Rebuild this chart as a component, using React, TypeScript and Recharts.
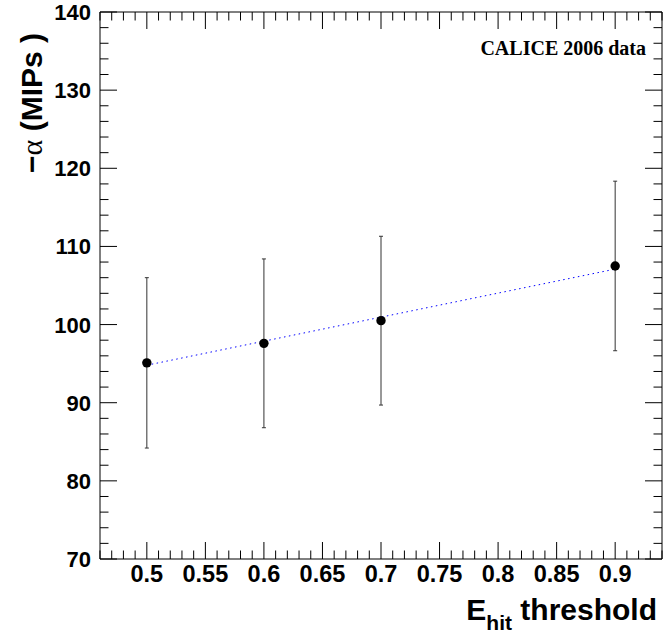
import React from "react";
import {
  ComposedChart,
  XAxis,
  YAxis,
  Scatter,
  Line,
  ErrorBar,
  ReferenceArea,
  Customized,
} from "recharts";

// ---- data ----
const thresholds = [0.5, 0.6, 0.7, 0.9];
const alphaValues = [95.1, 97.6, 100.5, 107.5];
const alphaErrors = [10.9, 10.8, 10.8, 10.85];
const fitX = [0.5, 0.9];
const fitY = [94.8, 107.1];

const xTicks = [
  0.46, 0.47, 0.48, 0.49, 0.5, 0.51, 0.52, 0.53, 0.54, 0.55, 0.56, 0.57, 0.58,
  0.59, 0.6, 0.61, 0.62, 0.63, 0.64, 0.65, 0.66, 0.67, 0.68, 0.69, 0.7, 0.71,
  0.72, 0.73, 0.74, 0.75, 0.76, 0.77, 0.78, 0.79, 0.8, 0.81, 0.82, 0.83, 0.84,
  0.85, 0.86, 0.87, 0.88, 0.89, 0.9, 0.91, 0.92, 0.93, 0.94,
];
const xLabels = ["0.5", "0.55", "0.6", "0.65", "0.7", "0.75", "0.8", "0.85", "0.9"];
const yTicks = [
  70, 72, 74, 76, 78, 80, 82, 84, 86, 88, 90, 92, 94, 96, 98, 100, 102, 104,
  106, 108, 110, 112, 114, 116, 118, 120, 122, 124, 126, 128, 130, 132, 134,
  136, 138, 140,
];
const yLabels = ["70", "80", "90", "100", "110", "120", "130", "140"];

const points = thresholds.map((x, i) => ({ x, y: alphaValues[i], err: alphaErrors[i] }));
const fitData = fitX.map((x, i) => ({ x, y: fitY[i] }));

// ---- layout ----
const W = 665;
const H = 635;
const PLOT_W = 562;
const PLOT_H = 547;
const MAJOR = 17;
const MINOR = 8.5;
const FONT = "'Liberation Sans', Arial, Helvetica, sans-serif";

const XTick = (props: any) => {
  const { x, y, payload } = props;
  const v = payload.value as number;
  const c = Math.round(v * 100);
  const major = c % 5 === 0;
  const len = major ? MAJOR : MINOR;
  const top = y - PLOT_H;
  const label = major ? xLabels.find((l) => Math.round(parseFloat(l) * 100) === c) : undefined;
  return (
    <g>
      <line x1={x} y1={y} x2={x} y2={y - len} stroke="#000" strokeWidth={1} />
      <line x1={x} y1={top} x2={x} y2={top + len} stroke="#000" strokeWidth={1} />
      {label && (
        <text
          x={x}
          y={y + 23}
          textAnchor="middle"
          fontFamily={FONT}
          fontWeight="bold"
          fontSize={23.5}
          fill="#000"
        >
          {label}
        </text>
      )}
    </g>
  );
};

const YTick = (props: any) => {
  const { x, y, payload } = props;
  const v = payload.value as number;
  const major = Math.round(v) % 10 === 0;
  const len = major ? MAJOR : MINOR;
  const right = x + PLOT_W;
  const label = major ? yLabels.find((l) => parseFloat(l) === Math.round(v)) : undefined;
  return (
    <g>
      <line x1={x} y1={y} x2={x + len} y2={y} stroke="#000" strokeWidth={1} />
      <line x1={right} y1={y} x2={right - len} y2={y} stroke="#000" strokeWidth={1} />
      {label && (
        <text
          x={x - 9}
          y={y + 8}
          textAnchor="end"
          fontFamily={FONT}
          fontWeight="bold"
          fontSize={22}
          fill="#000"
        >
          {label}
        </text>
      )}
    </g>
  );
};

const Dot = (props: any) => {
  const { cx, cy } = props;
  if (cx == null || cy == null) return null;
  return <circle cx={cx} cy={cy} r={4.7} fill="#000" />;
};

const Texts = () => (
  <g>
    <text
      x={646}
      y={55}
      textAnchor="end"
      fontFamily="'Liberation Serif', 'Times New Roman', serif"
      fontWeight="bold"
      fontSize={20}
      fill="#000"
    >
      CALICE 2006 data
    </text>
    <text
      x={657}
      y={620}
      textAnchor="end"
      fontFamily={FONT}
      fontWeight="bold"
      fontSize={30}
      fill="#000"
    >
      E
      <tspan fontSize={21} dy={10}>
        hit
      </tspan>
      <tspan dy={-10}> threshold</tspan>
    </text>
    <text
      transform="translate(42,33) rotate(-90)"
      x={0}
      y={0}
      textAnchor="end"
      fontFamily={FONT}
      fontWeight="bold"
      fontSize={30}
      fill="#000"
    >
      {"\u2212"}
      <tspan fontFamily="'Liberation Serif', 'DejaVu Serif', serif" fontWeight="normal">
        {"\u03b1"}
      </tspan>
      {" (MIPs )"}
    </text>
  </g>
);

export default function App() {
  return (
    <div style={{ position: "absolute", left: 0, top: 0, width: W, height: H }}>
      <ComposedChart
        width={W}
        height={H}
        margin={{ top: 12, right: 3, left: 0, bottom: 0 }}
        style={{ background: "#fff" }}
      >
        <XAxis
          dataKey="x"
          type="number"
          domain={[0.46, 0.94]}
          ticks={xTicks}
          interval={0}
          height={76}
          tickSize={0}
          tickMargin={0}
          tickLine={false}
          axisLine={false}
          tick={<XTick />}
          allowDataOverflow
        />
        <YAxis
          type="number"
          domain={[70, 140]}
          ticks={yTicks}
          interval={0}
          width={100}
          tickSize={0}
          tickMargin={0}
          tickLine={false}
          axisLine={false}
          tick={<YTick />}
          allowDataOverflow
        />
        <ReferenceArea
          x1={0.46}
          x2={0.94}
          y1={70}
          y2={140}
          fill="none"
          fillOpacity={0}
          stroke="#000"
          strokeWidth={1}
        />
        <Line
          data={fitData}
          dataKey="y"
          stroke="#0000ff"
          strokeWidth={1}
          strokeDasharray="1.5 3.5"
          dot={false}
          activeDot={false}
          isAnimationActive={false}
          legendType="none"
        />
        <Scatter data={points} dataKey="y" shape={<Dot />} isAnimationActive={false}>
          <ErrorBar dataKey="err" direction="y" width={2} stroke="#333" strokeWidth={1} isAnimationActive={false} />
        </Scatter>
        <Customized component={Texts} />
      </ComposedChart>
    </div>
  );
}
